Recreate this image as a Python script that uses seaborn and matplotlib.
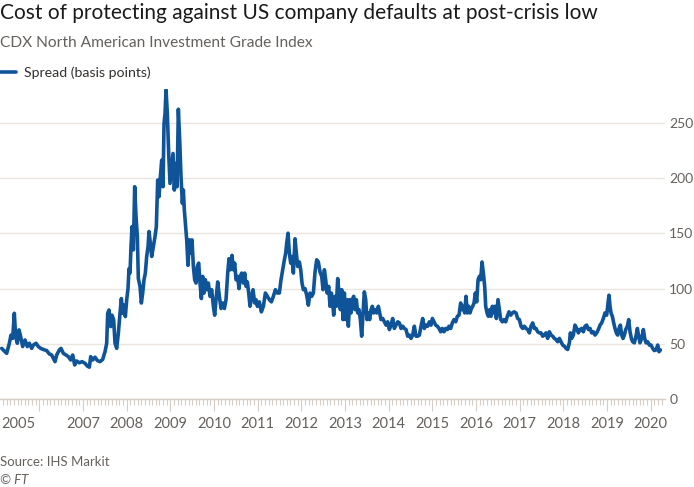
import pandas as pd
import seaborn as sns
import matplotlib.pyplot as plt
from matplotlib.ticker import MultipleLocator, FixedLocator

# CDX North American IG spread (decimal year, basis points)
years_2005_08 = [2005.137, 2005.214, 2005.252, 2005.313, 2005.351, 2005.389, 2005.427, 2005.458, 2005.496, 2005.534,
                 2005.572, 2005.618, 2005.672, 2005.725, 2005.771, 2005.824, 2005.863, 2005.924, 2005.977, 2006.030,
                 2006.091, 2006.168, 2006.229, 2006.282, 2006.321, 2006.359, 2006.397, 2006.458, 2006.496, 2006.550,
                 2006.611, 2006.664, 2006.718, 2006.763, 2006.809, 2006.855, 2006.916, 2006.977, 2007.046, 2007.099,
                 2007.145, 2007.176, 2007.221, 2007.275, 2007.328, 2007.389, 2007.450, 2007.504, 2007.542, 2007.565,
                 2007.595, 2007.634, 2007.664, 2007.702, 2007.733, 2007.771, 2007.809, 2007.847, 2007.878, 2007.908,
                 2007.939, 2007.969, 2008.000, 2008.030, 2008.053, 2008.076, 2008.099, 2008.122, 2008.153, 2008.183,
                 2008.214, 2008.244, 2008.267, 2008.305, 2008.336, 2008.366, 2008.397, 2008.427, 2008.458, 2008.489,
                 2008.511, 2008.542, 2008.573, 2008.611, 2008.649, 2008.679, 2008.710, 2008.740, 2008.771, 2008.802,
                 2008.832, 2008.855, 2008.878, 2008.901, 2008.931, 2008.962, 2008.992]
spread_2005_08 = [46, 43, 41.5, 50.6, 58, 55, 77.7, 56.6, 50.6, 62.7,
                  56.6, 47.6, 53.6, 47.6, 50.6, 46, 49, 50.6, 47.6, 46,
                  45, 44, 41, 40, 37, 34, 40, 44.6, 46, 41.5,
                  40, 38.5, 35.5, 40, 31, 34.6, 33, 34, 32.5, 30,
                  29, 38.5, 35.5, 38, 35, 34, 36, 43, 50.6, 77.7,
                  80.7, 65.7, 76, 71.7, 50.6, 46, 59.6, 77.7, 91, 77.7,
                  85, 74.7, 89.8, 100, 118, 114, 138, 156, 135, 192,
                  165, 147, 109, 102, 87, 96, 108, 114, 129, 138,
                  151.5, 141, 129, 138, 147, 156, 198, 183, 201, 216,
                  192, 249, 258, 279.5, 258, 222, 195]

years_2009_12 = [2009.061, 2009.091, 2009.122, 2009.153, 2009.183, 2009.214, 2009.244, 2009.275, 2009.298, 2009.320,
                 2009.351, 2009.374, 2009.404, 2009.435, 2009.466, 2009.496, 2009.527, 2009.557, 2009.588, 2009.618,
                 2009.649, 2009.679, 2009.710, 2009.740, 2009.771, 2009.801, 2009.832, 2009.870, 2009.908, 2009.946,
                 2009.985, 2010.015, 2010.046, 2010.084, 2010.122, 2010.160, 2010.198, 2010.237, 2010.275, 2010.313,
                 2010.343, 2010.374, 2010.412, 2010.443, 2010.473, 2010.504, 2010.542, 2010.572, 2010.603, 2010.633,
                 2010.672, 2010.702, 2010.733, 2010.763, 2010.794, 2010.824, 2010.862, 2010.893, 2010.931, 2010.962,
                 2010.992, 2011.038, 2011.084, 2011.130, 2011.176, 2011.221, 2011.267, 2011.313, 2011.359, 2011.405,
                 2011.450, 2011.496, 2011.534, 2011.573, 2011.611, 2011.641, 2011.664, 2011.695, 2011.725, 2011.756,
                 2011.786, 2011.817, 2011.855, 2011.885, 2011.916, 2011.954, 2011.985, 2012.015, 2012.046, 2012.084,
                 2012.122, 2012.160, 2012.198, 2012.237, 2012.275, 2012.313, 2012.351, 2012.389, 2012.427, 2012.466,
                 2012.496, 2012.527, 2012.557, 2012.588, 2012.626, 2012.656, 2012.687, 2012.718, 2012.740, 2012.771,
                 2012.801, 2012.832, 2012.863, 2012.893, 2012.924, 2012.954, 2012.985]
spread_2009_12 = [222, 189, 213, 192, 262, 234, 201, 177, 189, 171,
                  156, 144, 121, 144, 132, 144, 120, 108, 105, 120,
                  123, 105, 91, 111, 96, 108, 99, 105, 93, 99,
                  84, 76, 90, 106, 93, 82, 87, 82, 90, 114,
                  127, 117, 130, 117, 123, 108, 111, 100, 111, 114,
                  105, 114, 102, 106, 96, 84, 93, 99, 87, 90,
                  84, 88, 79, 84, 96, 93, 90, 88, 93, 99,
                  96, 96, 108, 117, 126, 132, 141, 150, 132, 123,
                  129, 114, 145, 132, 120, 124, 117, 105, 99, 100,
                  94, 85, 96, 93, 96, 115, 126, 124, 115, 111,
                  99, 117, 108, 96, 102, 84, 96, 87, 76, 93,
                  84, 109, 96, 81, 99, 72, 96]

years_2013_16 = [2013.015, 2013.045, 2013.076, 2013.107, 2013.137, 2013.168, 2013.198, 2013.229, 2013.259, 2013.290,
                 2013.320, 2013.351, 2013.381, 2013.412, 2013.442, 2013.473, 2013.503, 2013.534, 2013.564, 2013.595,
                 2013.626, 2013.656, 2013.687, 2013.725, 2013.763, 2013.794, 2013.824, 2013.862, 2013.900, 2013.939,
                 2013.977, 2014.015, 2014.053, 2014.091, 2014.129, 2014.168, 2014.206, 2014.244, 2014.282, 2014.320,
                 2014.358, 2014.397, 2014.435, 2014.473, 2014.511, 2014.549, 2014.587, 2014.625, 2014.664, 2014.702,
                 2014.740, 2014.778, 2014.816, 2014.854, 2014.893, 2014.931, 2014.969, 2015.000, 2015.038, 2015.076,
                 2015.114, 2015.152, 2015.190, 2015.228, 2015.267, 2015.305, 2015.343, 2015.381, 2015.419, 2015.457,
                 2015.496, 2015.534, 2015.572, 2015.610, 2015.648, 2015.679, 2015.709, 2015.740, 2015.770, 2015.801,
                 2015.831, 2015.862, 2015.893, 2015.923, 2015.954, 2015.984, 2016.015, 2016.046, 2016.076, 2016.107,
                 2016.137, 2016.168, 2016.198, 2016.221, 2016.252, 2016.282, 2016.313, 2016.343, 2016.374, 2016.404,
                 2016.435, 2016.465, 2016.503, 2016.534, 2016.565, 2016.603, 2016.641, 2016.679, 2016.717, 2016.755,
                 2016.794, 2016.832, 2016.870]
spread_2013_16 = [72, 90, 66, 90, 78, 90, 93, 81, 90, 78,
                  81, 72, 57, 78, 97, 90, 72, 78, 72, 81,
                  84, 78, 81, 78, 84, 78, 72, 73, 70, 67,
                  70, 63, 67, 73, 64, 67, 70, 69, 64, 66,
                  64, 63, 57, 58, 55, 58, 66, 57, 57, 58,
                  66, 73, 64, 67, 66, 70, 67, 73, 70, 67,
                  66, 64, 61, 64, 61, 64, 63, 66, 64, 69,
                  72, 70, 75, 76, 87, 81, 84, 78, 93, 78,
                  84, 78, 82, 84, 87, 96, 88, 108, 111, 108,
                  124, 114, 102, 84, 78, 75, 81, 75, 84, 78,
                  84, 73, 90, 81, 72, 70, 72, 70, 75, 79,
                  76, 78, 79]

years_2017_20 = [2016.915, 2016.953, 2016.992, 2017.030, 2017.068, 2017.106, 2017.144, 2017.182, 2017.221, 2017.259,
                 2017.297, 2017.335, 2017.373, 2017.411, 2017.450, 2017.488, 2017.526, 2017.564, 2017.602, 2017.640,
                 2017.679, 2017.717, 2017.755, 2017.793, 2017.831, 2017.869, 2017.908, 2017.946, 2017.984, 2018.022,
                 2018.060, 2018.098, 2018.137, 2018.160, 2018.190, 2018.228, 2018.266, 2018.305, 2018.343, 2018.381,
                 2018.419, 2018.457, 2018.495, 2018.534, 2018.572, 2018.610, 2018.648, 2018.686, 2018.724, 2018.763,
                 2018.801, 2018.839, 2018.877, 2018.915, 2018.953, 2018.992, 2019.022, 2019.045, 2019.068, 2019.091,
                 2019.121, 2019.152, 2019.182, 2019.213, 2019.243, 2019.274, 2019.305, 2019.335, 2019.366, 2019.396,
                 2019.427, 2019.465, 2019.496, 2019.526, 2019.557, 2019.587, 2019.625, 2019.663, 2019.694, 2019.724,
                 2019.755, 2019.793, 2019.831, 2019.862, 2019.892, 2019.930, 2019.969, 2020.007, 2020.045, 2020.083,
                 2020.121, 2020.160, 2020.190, 2020.221]
spread_2017_20 = [78, 73, 72, 66, 64, 66, 64, 63, 60, 66,
                  69, 64, 64, 61, 60, 60, 57, 58, 60, 55,
                  61, 58, 57, 55, 54, 52, 55, 52, 49, 48,
                  46, 45, 51, 60, 55, 58, 67, 64, 60, 63,
                  64, 61, 66, 67, 63, 64, 60, 61, 58, 60,
                  63, 67, 69, 73, 78, 76, 87, 94, 84, 78,
                  75, 69, 64, 60, 58, 64, 67, 58, 55, 58,
                  63, 66, 72, 61, 55, 52, 51, 57, 64, 57,
                  51, 55, 63, 55, 51, 52, 49, 49, 46, 44,
                  44.6, 49, 43, 44.6]

y_ticks = [0, 50, 100, 150, 200, 250]
x_years = list(range(2006, 2021))
x_labels = ["" if y == 2006 else str(y) for y in x_years]

df = pd.DataFrame({
    "year": years_2005_08 + years_2009_12 + years_2013_16 + years_2017_20,
    "spread": spread_2005_08 + spread_2009_12 + spread_2013_16 + spread_2017_20,
})

sns.set_theme(style="white")
plt.rcParams["font.family"] = ["Lato", "DejaVu Sans"]

W, H = 694, 487
fig = plt.figure(figsize=(W / 100, H / 100), dpi=100)
fig.patch.set_facecolor("white")
ax = fig.add_axes([0, (H - 399.3) / H, 665 / W, 310 / H])

grey = "#66605c"
grid_c = "#ebe5df"
tick_c = "#d6cdc5"

sns.lineplot(data=df, x="year", y="spread", ax=ax, color="#0f5499", linewidth=2.6,
             estimator=None, sort=False, label="Spread (basis points)")

ax.set_xlim(2005.099, 2020.327)
ax.set_ylim(0, 280)
ax.set_xlabel("")
ax.set_ylabel("")

ax.set_yticks(y_ticks)
ax.yaxis.tick_right()
ax.grid(axis="y", color=grid_c, linewidth=1)
ax.grid(axis="x", visible=False)
for s in ["top", "left", "right"]:
    ax.spines[s].set_visible(False)
ax.spines["bottom"].set_color(tick_c)
ax.spines["bottom"].set_linewidth(1)

ax.xaxis.set_major_locator(FixedLocator(x_years))
ax.set_xticklabels(x_labels)
ax.xaxis.set_minor_locator(MultipleLocator(1 / 12))
ax.tick_params(axis="x", which="major", bottom=True, length=8.5, width=0.8,
               color=tick_c, pad=4, labelsize=10.5, labelcolor=grey)
ax.tick_params(axis="x", which="minor", bottom=True, length=4.5, width=0.8, color=tick_c)
ax.tick_params(axis="y", length=0, pad=3, labelsize=10, labelcolor=grey)
ax.annotate("2005", xy=(0, 0), xycoords="axes fraction", xytext=(1, -12.5),
            textcoords="offset points", ha="left", va="top", fontsize=10.5, color=grey)

handles, labels = ax.get_legend_handles_labels()
ax.get_legend().remove()
fig.legend(handles, labels, loc="upper left", bbox_to_anchor=(0, 1 - 66 / H),
           frameon=False, fontsize=10.2, handlelength=1.1, handletextpad=0.6,
           borderpad=0, borderaxespad=0, labelcolor="#33302e")

fig.text(0, 1 - 3 / H, "Cost of protecting against US company defaults at post-crisis low",
         ha="left", va="top", fontsize=15, color="#1a1a1a")
fig.text(0, 1 - 36 / H, "CDX North American Investment Grade Index",
         ha="left", va="top", fontsize=11.2, color=grey)
fig.text(0, 1 - 456 / H, "Source: IHS Markit", ha="left", va="top", fontsize=9.5, color=grey)
fig.text(0, 1 - 474 / H, "© FT", ha="left", va="top", fontsize=9.5, color=grey, style="italic")

plt.savefig("out.png", dpi=100, facecolor="white")
